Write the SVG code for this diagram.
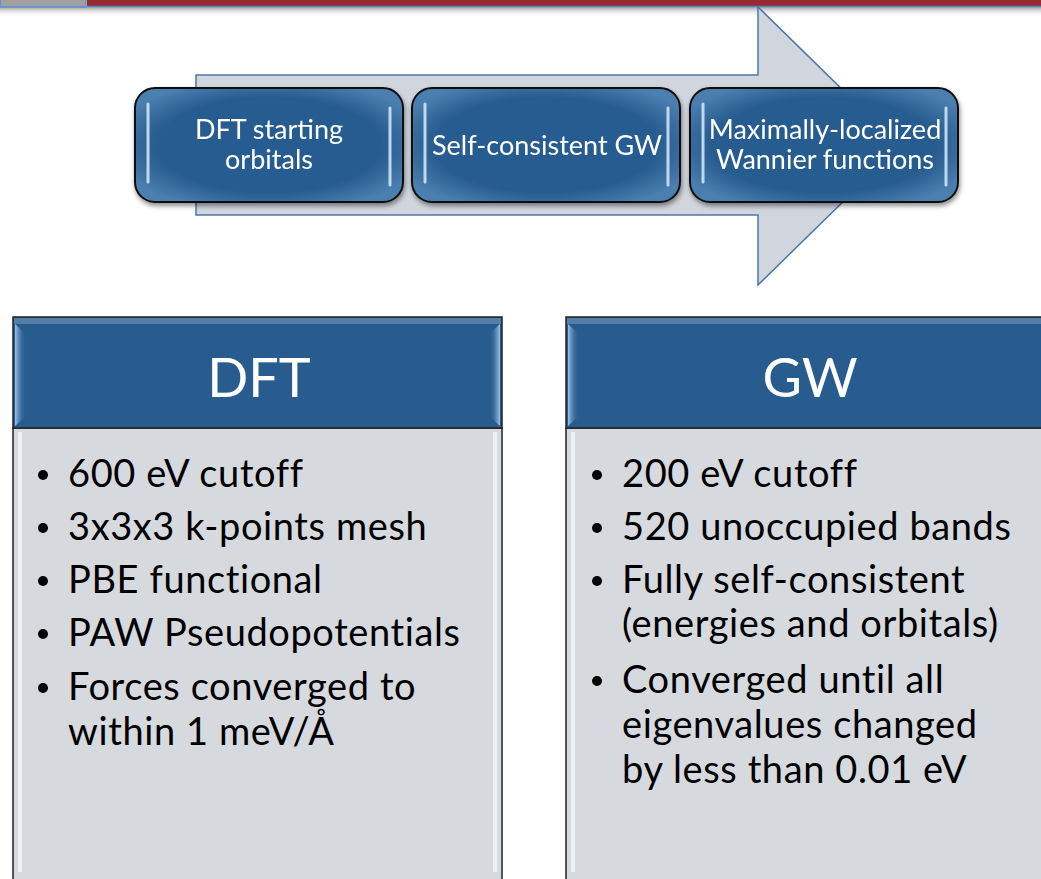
<svg xmlns="http://www.w3.org/2000/svg" width="1041" height="879" viewBox="0 0 1041 879">
<style>
.t{font-family:Lato,"Liberation Sans",sans-serif;}
.w{fill:#ffffff;}
.k{fill:#000000;}
.pill{stroke:#111;stroke-width:2;}
.hl{stroke:#cfe3f7;stroke-width:3;stroke-linecap:round;opacity:0.9;}
.hdr{fill:#285c8f;stroke:#222;stroke-width:1.5;}
.body{fill:#d6d9de;stroke:#222;stroke-width:1.5;}
</style>
<defs>
<linearGradient id="topsh" x1="0" y1="0" x2="0" y2="1">
<stop offset="0" stop-color="#8a8a8a" stop-opacity="0.8"/>
<stop offset="1" stop-color="#ffffff" stop-opacity="0"/>
</linearGradient>
<filter id="ds" x="-10%" y="-10%" width="120%" height="130%">
<feGaussianBlur in="SourceAlpha" stdDeviation="2.5"/>
<feOffset dx="1" dy="3"/>
<feComponentTransfer><feFuncA type="linear" slope="0.45"/></feComponentTransfer>
<feMerge><feMergeNode/><feMergeNode in="SourceGraphic"/></feMerge>
</filter>
<radialGradient id="pillg" cx="0.5" cy="0.5" r="0.6">
<stop offset="0.7" stop-color="#285c8f"/>
<stop offset="1" stop-color="#4b7fb0"/>
</radialGradient>
<linearGradient id="sideL" x1="0" y1="0" x2="1" y2="0">
<stop offset="0" stop-color="#9cc3e6"/>
<stop offset="1" stop-color="#285c8f" stop-opacity="0"/>
</linearGradient>
<linearGradient id="sideR" x1="1" y1="0" x2="0" y2="0">
<stop offset="0" stop-color="#9cc3e6"/>
<stop offset="1" stop-color="#285c8f" stop-opacity="0"/>
</linearGradient>
</defs>
<rect width="1041" height="879" fill="#ffffff"/>
<g id="topbar">
<rect x="0" y="7" width="1041" height="10" fill="url(#topsh)"/>
<rect x="87" y="0" width="954" height="6" fill="#952a32"/>
<line x1="87" y1="6.5" x2="1041" y2="6.5" stroke="#5a86c0" stroke-width="1.5"/>
<rect x="0" y="-1" width="86" height="8" fill="#a0a0a0" stroke="#5a8fd0" stroke-width="1.5"/>
</g>
<g id="flow-arrow">
<path d="M196,75 H758 V7 L900,146 L758,285 V215 H196 Z" fill="#d1d6de" stroke="#4a78a8" stroke-width="1.5"/>
</g>
<g id="node-dft-start" filter="url(#ds)">
<rect class="pill" x="135" y="88" width="268" height="114" rx="20" fill="url(#pillg)"/>
<line class="hl" x1="148" y1="104" x2="148" y2="182"/>
<line class="hl" x1="390" y1="108" x2="390" y2="185"/>
<text class="t w" font-size="27" text-anchor="middle"><tspan x="269" y="139">DFT starting</tspan><tspan x="269" y="169">orbitals</tspan></text>
</g>
<g id="node-scgw" filter="url(#ds)">
<rect class="pill" x="412" y="88" width="268" height="114" rx="20" fill="url(#pillg)"/>
<line class="hl" x1="425" y1="104" x2="425" y2="182"/>
<line class="hl" x1="668" y1="108" x2="668" y2="185"/>
<text class="t w" font-size="27" text-anchor="middle" x="547" y="155">Self-consistent GW</text>
</g>
<g id="node-mlwf" filter="url(#ds)">
<rect class="pill" x="690" y="88" width="268" height="114" rx="20" fill="url(#pillg)"/>
<line class="hl" x1="703" y1="104" x2="703" y2="182"/>
<line class="hl" x1="946" y1="108" x2="946" y2="185"/>
<text class="t w" font-size="27" text-anchor="middle"><tspan x="825" y="139">Maximally-localized</tspan><tspan x="825" y="169">Wannier functions</tspan></text>
</g>
<g id="panel-dft">
<rect class="body" x="13" y="428" width="489" height="460"/>
<rect x="18" y="432" width="4" height="440" fill="#f4f5f7" opacity="0.8"/>
<rect x="493" y="432" width="4" height="440" fill="#f4f5f7" opacity="0.8"/>
<rect class="hdr" x="13" y="317" width="489" height="111"/>
<rect x="14" y="318" width="487" height="6" fill="#6f94bb" opacity="0.6"/>
<path d="M15,324 L26,334 V416 L15,426 Z" fill="url(#sideL)"/>
<path d="M500,324 L489,334 V416 L500,426 Z" fill="url(#sideR)"/>
<text class="t w" font-size="54" text-anchor="middle" x="259" y="397">DFT</text>
<g class="t k" font-size="38" letter-spacing="0.6">
<circle cx="43" cy="475" r="5"/><text x="68" y="487">600 eV cutoff</text>
<circle cx="43" cy="528" r="5"/><text x="68" y="540">3x3x3 k-points mesh</text>
<circle cx="43" cy="581" r="5"/><text x="68" y="593">PBE functional</text>
<circle cx="43" cy="634" r="5"/><text x="68" y="646">PAW Pseudopotentials</text>
<circle cx="43" cy="688" r="5"/><text x="68" y="700">Forces converged to</text>
<text x="68" y="745">within 1 meV/Å</text>
</g>
</g>
<g id="panel-gw">
<rect class="body" x="566" y="428" width="490" height="460"/>
<rect x="571" y="432" width="4" height="440" fill="#f4f5f7" opacity="0.8"/>
<rect class="hdr" x="566" y="317" width="490" height="111"/>
<rect x="567" y="318" width="488" height="6" fill="#6f94bb" opacity="0.6"/>
<path d="M568,324 L579,334 V416 L568,426 Z" fill="url(#sideL)"/>
<text class="t w" font-size="54" text-anchor="middle" x="810" y="397">GW</text>
<g class="t k" font-size="38" letter-spacing="0.6">
<circle cx="597" cy="475" r="5"/><text x="622" y="487">200 eV cutoff</text>
<circle cx="597" cy="528" r="5"/><text x="622" y="540">520 unoccupied bands</text>
<circle cx="597" cy="581" r="5"/><text x="622" y="593">Fully self-consistent</text>
<text x="622" y="637">(energies and orbitals)</text>
<circle cx="597" cy="681" r="5"/><text x="622" y="693">Converged until all</text>
<text x="622" y="738">eigenvalues changed</text>
<text x="622" y="783">by less than 0.01 eV</text>
</g>
</g>
</svg>
